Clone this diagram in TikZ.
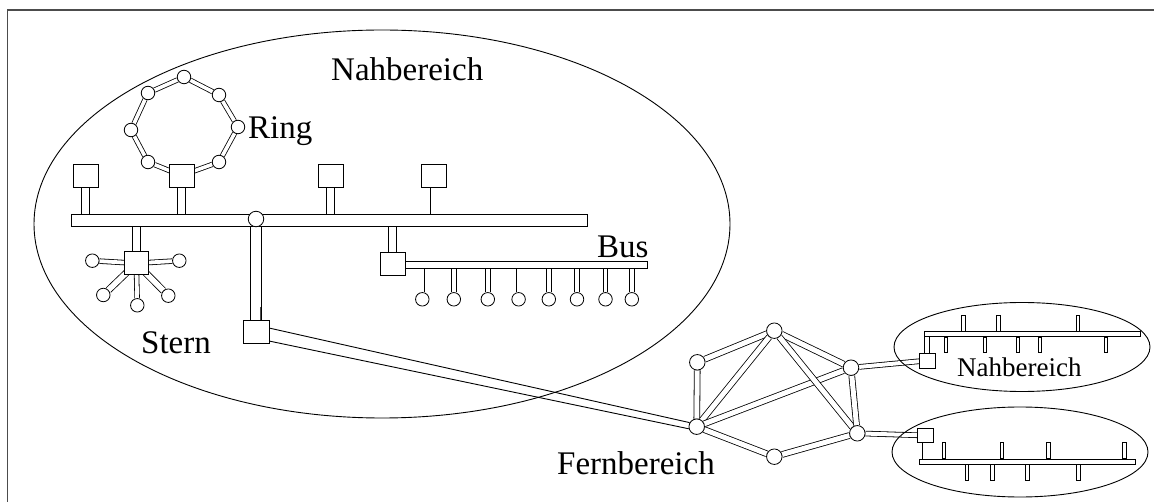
\documentclass[tikz,border=0pt]{standalone}
\usepackage{fontspec}
\setmainfont{Liberation Serif}
\usetikzlibrary{backgrounds,calc}
\begin{document}
\begin{tikzpicture}[x=1pt,y=-1pt,
  lw/.style={line width=0.9pt},
  box/.style={draw,fill=white,line width=0.9pt,minimum width=25pt,minimum height=23pt,inner sep=0pt,rectangle},
  sbox/.style={draw,fill=white,line width=0.8pt,minimum width=15.5pt,minimum height=15pt,inner sep=0pt,rectangle},
  dot/.style={draw,fill=white,circle,line width=0.8pt,minimum size=13.5pt,inner sep=0pt},
  bigdot/.style={dot,minimum size=15.5pt},
  barbox/.style={draw,fill=white,line width=0.9pt,inner sep=0pt,rectangle},
  stub/.style={draw,fill=white,line width=0.7pt,inner sep=0pt,rectangle,minimum width=3.6pt,minimum height=15.5pt},
  link/.style={double,line width=0.8pt,double distance=#1},
  link/.default=4pt,
  lbl/.style={inner sep=0pt,anchor=base west,font=\fontsize{33}{33}\selectfont},
]
\useasboundingbox (0,0) rectangle (1154,502);
% frame
\draw[line width=1.5pt,black!70] (7.5,502) -- (7.5,10) -- (1154,10);

% big ellipse (Nahbereich)
\draw[lw] (382,224) ellipse [x radius=348, y radius=194];

% main bus bar and its stations
\node[barbox,minimum width=516pt,minimum height=12pt] (mainbar) at (329,220) {};
\node[box] (q1) at (85.5,175.5) {};
\node[box] (rsq) at (181.5,175.5) {};
\node[box] (q3) at (330.5,175.5) {};
\node[box] (q4) at (434,175.5) {};
\node[bigdot] (junc) at (256,219) {};

% ring
\node[dot] (r1) at (184,77) {};
\node[dot] (r2) at (219,95) {};
\node[dot] (r3) at (238,127) {};
\node[dot] (r4) at (219,162) {};
\node[dot] (r6) at (148,162) {};
\node[dot] (r7) at (131,130) {};
\node[dot] (r8) at (148,93) {};

% star
\node[box,minimum width=24pt] (ssq) at (136.3,263.3) {};
\node[dot] (s1) at (92.3,260.7) {};
\node[dot] (s2) at (179.3,260.7) {};
\node[dot] (s3) at (103.3,295) {};
\node[dot] (s4) at (137.3,305.3) {};
\node[dot] (s5) at (168.3,295.7) {};

% bus
\node[box] (bussq) at (392.5,263.5) {};
\node[barbox,minimum width=242pt,minimum height=7pt] (busbar) at (526,264.5) {};
\foreach \i/\x in {1/422.3,2/453.8,3/487.8,4/518.6,5/548.8,6/577,7/605.5,8/631.8}{
  \node[dot] (b\i) at (\x,299.3) {};
}

% Stern gateway
\node[box,minimum width=26pt] (stern) at (256,331.5) {};
\coordinate (l1) at (269,328);
\coordinate (l2) at (269,341);
\coordinate (m1) at (260.7,307);

% Fernbereich mesh
\node[bigdot] (nA) at (697.3,362.3) {};
\node[bigdot] (nB) at (774.3,330.7) {};
\node[bigdot] (nC) at (851,367.7) {};
\node[bigdot] (nD) at (696.7,426.7) {};
\node[bigdot] (nE) at (774.3,456.7) {};
\node[bigdot] (nF) at (857.3,433.3) {};

% small Nahbereich (top)
\draw[lw] (1022,347) ellipse [x radius=128, y radius=44.5];
\node[barbox,line width=0.7pt,minimum width=216.7pt,minimum height=5pt] (tbar) at (1032.3,334.2) {};
\node[sbox] (tsq) at (927.2,360.5) {};
\foreach \i/\x in {1/963.3,2/998.3,3/1077.7}{
  \node[stub,anchor=south] (tu\i) at (\x,0 |- tbar.north) {};
}
\foreach \i/\x in {1/946,2/985,3/1017.7,4/1040,5/1105.7}{
  \node[stub,anchor=north,minimum height=15pt] (td\i) at (\x,0 |- tbar.south) {};
}

% small Nahbereich (bottom)
\draw[lw] (1020,452) ellipse [x radius=128, y radius=45];
\node[barbox,line width=0.7pt,minimum width=216.4pt,minimum height=4.7pt] (bbar) at (1027.5,461.7) {};
\node[sbox,minimum width=16pt,minimum height=14pt] (bsq) at (925.3,435.5) {};
\foreach \i/\x in {1/944,2/1001.7,3/1048.3,4/1124.3}{
  \node[stub,anchor=south,minimum height=16pt] (bu\i) at (\x,0 |- bbar.north) {};
}
\foreach \i/\x in {1/966.7,2/992.3,3/1027.3,4/1078.3}{
  \node[stub,anchor=north,minimum height=16pt] (bd\i) at (\x,0 |- bbar.south) {};
}

% labels
\node[lbl] (tN) at (331,81) {Nahbereich};
\node[lbl] (tR) at (248,139) {Ring};
\node[lbl] (tB) at (597,258) {Bus};
\node[lbl] (tS) at (141,354) {Stern};
\node[lbl] (tF) at (557,474) {Fernbereich};
\node[lbl,font=\fontsize{27}{27}\selectfont] (tN2) at (957,377) {Nahbereich};

\begin{pgfonlayer}{background}
  % stems from main bar
  \foreach \q in {q1,rsq,q3,q4}{
    \draw[link=7pt] (\q.south) -- (\q.south |- mainbar.center);
  }
  \draw[link=7pt] (ssq.north) -- (ssq.north |- mainbar.center);
  \draw[link=7pt] (bussq.north) -- (bussq.north |- mainbar.center);
  \draw[link=9.5pt] (junc.center) -- (stern.north);
  % ring links
  \draw[link=3.6pt] (r1) -- (r2);
  \draw[link=3.6pt] (r2) -- (r3);
  \draw[link=3.6pt] (r3) -- (r4);
  \draw[link=3.6pt] (r4) -- (rsq.center);
  \draw[link=3.6pt] (rsq.center) -- (r6);
  \draw[link=3.6pt] (r6) -- (r7);
  \draw[link=3.6pt] (r7) -- (r8);
  \draw[link=3.6pt] (r8) -- (r1);
  % star spokes
  \draw[link=3.8pt] (ssq.center) -- (s1);
  \draw[link=3.8pt] (ssq.center) -- (s2);
  \draw[link=5.5pt] (ssq.center) -- (s3);
  \draw[link=3.8pt] (ssq.center) -- (s4);
  \draw[link=5.5pt] (ssq.center) -- (s5);
  % bus stems
  \foreach \i in {1,...,8}{
    \draw[link=3.8pt] (b\i) -- (b\i |- busbar.center);
  }
  % long line to the Fernbereich
  \draw[lw] (l1) -- (nD.150);
  \draw[lw] (l2) -- (nD.195);
  \draw[line width=1.3pt,black!70] (m1) -- (m1 |- stern.north);
  % mesh
  \draw[link=5pt] (nA) -- (nB);
  \draw[link=5pt] (nA) -- (nD);
  \draw[link=5pt] (nD) -- (nB);
  \draw[link=5pt] (nD) -- (nC);
  \draw[link=5pt] (nD) -- (nE);
  \draw[link=5pt] (nE) -- (nF);
  \draw[link=5pt] (nB) -- (nC);
  \draw[link=5pt] (nB) -- (nF);
  \draw[link=5pt] (nC) -- (nF);
  \draw[link=4pt] (nC) -- (tsq);
  \draw[link=4pt] (nF) -- (bsq);
  % small bus stems to their squares
  \draw[link=4.4pt] (tsq.north) -- (tsq.north |- tbar.center);
  \draw[link=4.4pt] (bsq.south) -- (bsq.south |- bbar.center);
\end{pgfonlayer}
\end{tikzpicture}
\end{document}
